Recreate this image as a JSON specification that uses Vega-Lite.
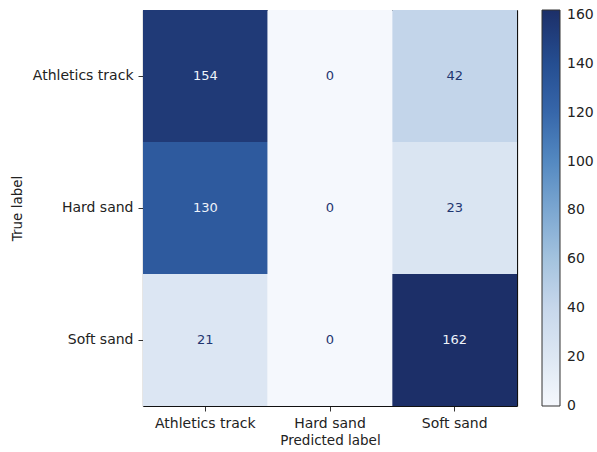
{
  "$schema": "https://vega.github.io/schema/vega-lite/v6.json",
  "autosize": {"type": "none"},
  "width": 374,
  "height": 396,
  "padding": {"left": 143, "top": 10, "right": 80, "bottom": 46},
  "background": "white",
  "data": {
    "values": [
      {"true_label": "Athletics track", "predicted": "Athletics track", "count": 154},
      {"true_label": "Athletics track", "predicted": "Hard sand", "count": 0},
      {"true_label": "Athletics track", "predicted": "Soft sand", "count": 42},
      {"true_label": "Hard sand", "predicted": "Athletics track", "count": 130},
      {"true_label": "Hard sand", "predicted": "Hard sand", "count": 0},
      {"true_label": "Hard sand", "predicted": "Soft sand", "count": 23},
      {"true_label": "Soft sand", "predicted": "Athletics track", "count": 21},
      {"true_label": "Soft sand", "predicted": "Hard sand", "count": 0},
      {"true_label": "Soft sand", "predicted": "Soft sand", "count": 162}
    ]
  },
  "layer": [
    {
      "mark": {"type": "rect", "stroke": null},
      "encoding": {
        "x": {
          "field": "predicted",
          "type": "nominal",
          "sort": ["Athletics track", "Hard sand", "Soft sand"],
          "scale": {"paddingInner": 0, "paddingOuter": 0},
          "axis": {
            "title": "Predicted label",
            "labelAngle": 0,
            "tickSize": 5,
            "labelPadding": 5,
            "titlePadding": 3
          }
        },
        "y": {
          "field": "true_label",
          "type": "nominal",
          "sort": ["Athletics track", "Hard sand", "Soft sand"],
          "scale": {"paddingInner": 0, "paddingOuter": 0},
          "axis": {
            "title": "True label",
            "tickSize": 5,
            "labelPadding": 5,
            "titlePadding": 8
          }
        },
        "color": {
          "field": "count",
          "type": "quantitative",
          "scale": {
            "domain": [0, 162],
            "range": ["#f5f8fd", "#dde7f3", "#c6d7eb", "#a3c2de", "#7aa6d0", "#5287c0", "#3565a8", "#244c8f", "#1c2f68"]
          },
          "legend": {
            "title": null,
            "orient": "right",
            "direction": "vertical",
            "offset": 25,
            "padding": 0,
            "gradientLength": 396,
            "gradientThickness": 18,
            "gradientStrokeColor": "#333",
            "gradientStrokeWidth": 1,
            "values": [0, 20, 40, 60, 80, 100, 120, 140, 160],
            "labelOverlap": false,
            "labelOffset": 7,
            "labelFontSize": 14,
            "labelColor": "#222",
            "labelFont": "DejaVu Sans",
            "encode": {
              "labels": {
                "update": {"baseline": {"value": "middle"}}
              }
            }
          }
        }
      }
    },
    {
      "mark": {"type": "text", "fontSize": 13, "font": "DejaVu Sans"},
      "encoding": {
        "x": {
          "field": "predicted",
          "type": "nominal",
          "sort": ["Athletics track", "Hard sand", "Soft sand"],
          "axis": {"orient": "top", "labels": false, "ticks": false, "title": null}
        },
        "y": {
          "field": "true_label",
          "type": "nominal",
          "sort": ["Athletics track", "Hard sand", "Soft sand"],
          "axis": {"orient": "right", "labels": false, "ticks": false, "title": null}
        },
        "text": {"field": "count", "type": "quantitative"},
        "color": {
          "condition": {"test": "datum.count > 81", "value": "#eef3fa"},
          "value": "#1f3670"
        }
      }
    }
  ],
  "resolve": {"axis": {"x": "independent", "y": "independent"}},
  "config": {
    "view": {"stroke": null},
    "axis": {
      "labelFont": "DejaVu Sans",
      "titleFont": "DejaVu Sans",
      "labelFontSize": 14,
      "titleFontSize": 13.5,
      "titleFontWeight": "normal",
      "labelColor": "#222",
      "titleColor": "#222",
      "tickColor": "#333",
      "domain": true,
      "domainColor": "#111",
      "domainWidth": 1.2,
      "zindex": 1,
      "grid": false
    }
  }
}
